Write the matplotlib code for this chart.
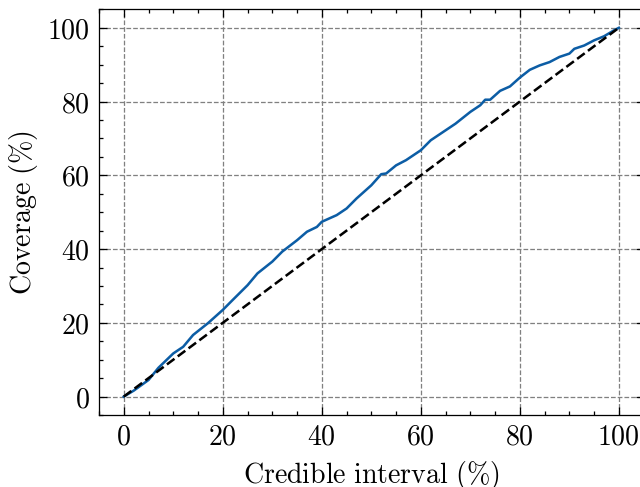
import numpy as np
import matplotlib
matplotlib.use("Agg")
import matplotlib.pyplot as plt
from matplotlib.ticker import MultipleLocator, FuncFormatter

# coverage curve
ci = [0, 2, 5, 7, 10, 12, 14, 17, 20, 22, 25, 27, 30, 32, 35, 37, 39, 40,
      43, 45, 47, 50, 52, 53, 55, 57, 60, 62, 65, 67, 70, 72, 73, 74, 76,
      78, 80, 82, 84, 86, 88, 90, 91, 93, 95, 97, 99, 100]
coverage = [0, 1.6, 4.5, 7.8, 11.7, 13.5, 16.7, 19.9, 23.5, 26.2, 30.2, 33.4,
            36.6, 39.3, 42.4, 44.7, 46.0, 47.4, 49.2, 51.0, 53.7, 57.3, 60.3,
            60.5, 62.7, 64.1, 66.8, 69.5, 72.2, 74.0, 77.2, 79.0, 80.5, 80.5,
            82.9, 84.1, 86.5, 88.6, 89.8, 90.7, 92.1, 93.0, 94.3, 95.2, 96.6,
            97.7, 99.3, 100]
ideal = [0, 100]

plt.rcParams.update({
    "mathtext.fontset": "cm",
    "font.family": "serif",
    "font.size": 11,
    "axes.linewidth": 0.5,
    "xtick.direction": "in",
    "ytick.direction": "in",
    "xtick.major.size": 3,
    "ytick.major.size": 3,
    "xtick.minor.size": 1.5,
    "ytick.minor.size": 1.5,
    "xtick.major.width": 0.5,
    "ytick.major.width": 0.5,
    "xtick.minor.width": 0.5,
    "ytick.minor.width": 0.5,
    "xtick.top": True,
    "ytick.right": True,
})

dpi = 640 / 3.5
fig = plt.figure(figsize=(3.5, 487 / dpi), dpi=dpi)
ax = fig.add_axes([0.1547, 0.1478, 0.851, 0.833])

ax.plot(ci, coverage, color="#0C5DA5", lw=1.0, zorder=3)
ax.plot(ideal, ideal, "k--", lw=1.0, zorder=3)

ax.set_xlim(-5, 105)
ax.set_ylim(-5, 105)
ax.xaxis.set_major_locator(MultipleLocator(20))
ax.yaxis.set_major_locator(MultipleLocator(20))
ax.xaxis.set_minor_locator(MultipleLocator(5))
ax.yaxis.set_minor_locator(MultipleLocator(5))
fmt = FuncFormatter(lambda v, p: r"$%d$" % v)
ax.xaxis.set_major_formatter(fmt)
ax.yaxis.set_major_formatter(fmt)
ax.grid(True, which="major", ls="--", color="0.5", lw=0.5)

ax.set_xlabel(r"$\mathrm{Credible\ interval\ (\%)}$", labelpad=3)
ax.set_ylabel(r"$\mathrm{Coverage\ (\%)}$", labelpad=3)

fig.savefig("out.png", dpi=dpi)
